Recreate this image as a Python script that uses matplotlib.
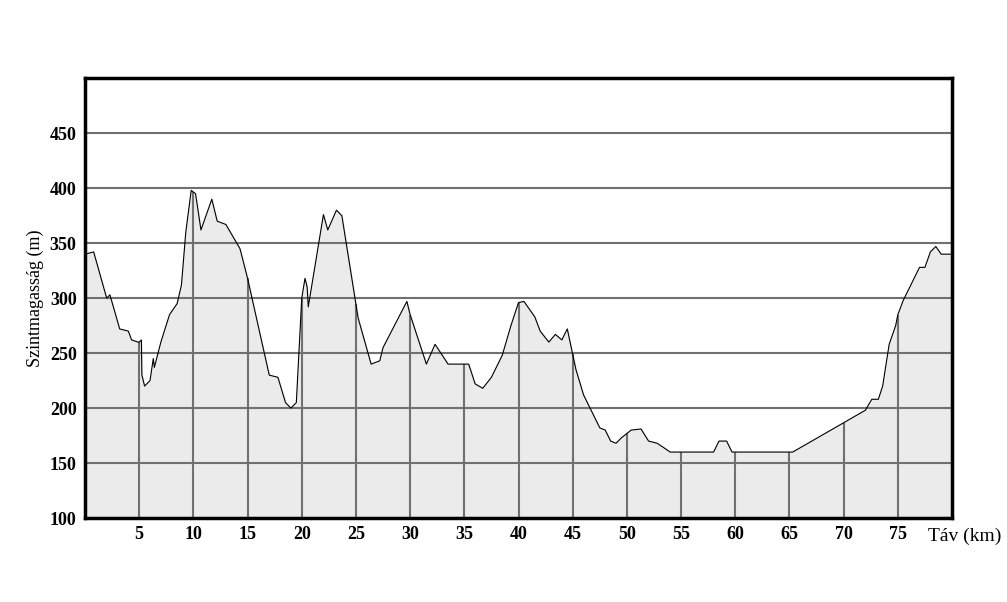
import numpy as np
import matplotlib
matplotlib.use("Agg")
import matplotlib.pyplot as plt

dist = [0, 0.8, 2, 2.3, 3.2, 4, 4.3, 4.9, 5.0, 5.2, 5.25, 5.5, 6, 6.3, 6.4, 7, 7.8, 8.5, 8.9, 9.3, 9.8, 10.2,
        10.7, 11.7, 12.2, 13, 14.3, 15, 17, 17.8, 18.5, 19, 19.5, 20, 20.3, 20.5, 20.6, 22, 22.4, 23.2, 23.7,
        25.2, 26.4, 27.2, 27.5, 29.7, 30, 31.5, 32.3, 33.5, 35.4, 36, 36.7, 37.5, 38.5, 39.3, 40, 40.5,
        41.5, 42, 42.8, 43.4, 44, 44.5, 45.3, 46, 47.5, 48, 48.5, 49, 49.5, 50.4, 51.3, 52, 52.8, 54, 58,
        58.5, 59.2, 59.7, 65.3, 72, 72.6, 73.2, 73.6, 74.2, 74.8, 75, 75.5, 77, 77.5, 78, 78.5, 79, 80]
elev = [340, 342, 300, 303, 272, 270, 262, 260, 260, 262, 230, 220, 225, 245, 237, 260, 285, 295, 312, 360, 398, 395,
        362, 390, 370, 367, 345, 318, 230, 228, 205, 200, 205, 300, 318, 310, 292, 376, 362, 380, 375,
        282, 240, 243, 255, 297, 285, 240, 258, 240, 240, 222, 218, 228, 248, 275, 296, 297,
        283, 270, 260, 267, 262, 272, 235, 212, 182, 180, 170, 168, 173, 180, 181, 170, 168, 160, 160,
        170, 170, 160, 160, 198, 208, 208, 220, 258, 275, 285, 298, 328, 328, 342, 347, 340, 340]
xticks = [5, 10, 15, 20, 25, 30, 35, 40, 45, 50, 55, 60, 65, 70, 75]
yticks = [100, 150, 200, 250, 300, 350, 400, 450]

plt.rcParams['font.family'] = ['Liberation Serif', 'DejaVu Serif']
fig = plt.figure(figsize=(10.07, 6.02), dpi=100)
ax = fig.add_axes([0.0844, 0.1395, 0.8610, 0.7305])
ax.set_xlim(0, 80)
ax.set_ylim(100, 500)
ax.fill_between(dist, 100, elev, color='#ebebeb', zorder=1)
for y in yticks[1:]:
    ax.axhline(y, color='#707070', lw=1.5, zorder=2)
xs = np.array(dist); es = np.array(elev)
for x in xticks:
    ax.vlines(x, 100, np.interp(x, xs, es), color='#707070', lw=1.5, zorder=2)
ax.plot(dist, elev, color='black', lw=0.8, zorder=3)
ax.set_xticks(xticks)
ax.set_yticks(yticks)
ax.tick_params(length=0, labelsize=13, pad=6)
for t in ax.get_xticklabels() + ax.get_yticklabels():
    t.set_fontweight('bold')
for s in ax.spines.values():
    s.set_linewidth(2.5)
ax.set_ylabel('Szintmagasság (m)', fontsize=13)
ax.text(0.972, -0.022, 'Táv (km)', transform=ax.transAxes, ha='left', va='top', fontsize=14)
fig.savefig('out.png', dpi=100)
